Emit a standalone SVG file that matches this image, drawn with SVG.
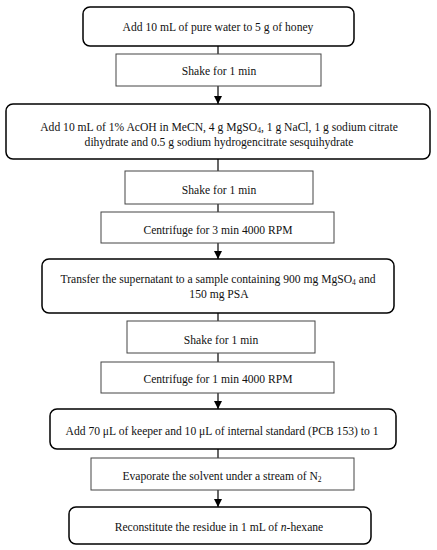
<svg xmlns="http://www.w3.org/2000/svg" width="437" height="550" viewBox="0 0 437 550">
<style>
.r{fill:#fff;stroke:#000;stroke-width:1.5}
.s{fill:#fff;stroke:#444;stroke-width:1}
text{font-family:"Liberation Serif","DejaVu Serif",serif;font-size:11.6px;fill:#111;text-anchor:middle}
.c line{stroke:#000;stroke-width:1.2}
.sub{font-size:7.5px}
</style>
<defs>
<marker id="ah" viewBox="0 0 10 10" refX="10" refY="5" markerWidth="8" markerHeight="8" markerUnits="userSpaceOnUse" orient="auto">
<path d="M0,0 L10,5 L0,10 Z" fill="#000"/>
</marker>
</defs>
<g class="c">
<line x1="218" y1="46" x2="218" y2="54"/>
<line x1="218" y1="86" x2="218" y2="104" marker-end="url(#ah)"/>
<line x1="218" y1="159" x2="218" y2="171"/>
<line x1="218" y1="204" x2="218" y2="212"/>
<line x1="218" y1="243" x2="218" y2="259" marker-end="url(#ah)"/>
<line x1="218" y1="313" x2="218" y2="321"/>
<line x1="218" y1="353" x2="218" y2="362"/>
<line x1="218" y1="393" x2="218" y2="409" marker-end="url(#ah)"/>
<line x1="218" y1="449" x2="218" y2="458"/>
<line x1="218" y1="490" x2="218" y2="507" marker-end="url(#ah)"/>
</g>
<g id="n1"><rect class="r" x="83" y="7" width="271" height="39" rx="7"/><text x="218" y="31">Add 10 mL of pure water to 5 g of honey</text></g>
<g id="n2"><rect class="s" x="116" y="54" width="205" height="32"/><text x="219" y="75">Shake for 1 min</text></g>
<g id="n3"><rect class="r" x="6" y="104" width="424" height="55" rx="7"/><text x="219" y="131">Add 10 mL of 1% AcOH in MeCN, 4 g MgSO<tspan class="sub" dy="2">4</tspan><tspan dy="-2">, 1 g NaCl, 1 g sodium citrate</tspan></text><text x="219" y="146">dihydrate and 0.5 g sodium hydrogencitrate sesquihydrate</text></g>
<g id="n4"><rect class="s" x="125" y="171" width="188" height="33"/><text x="219" y="194">Shake for 1 min</text></g>
<g id="n5"><rect class="s" x="101" y="212" width="233" height="31"/><text x="218" y="234">Centrifuge for 3 min 4000 RPM</text></g>
<g id="n6"><rect class="r" x="42" y="259" width="352" height="54" rx="7"/><text x="218" y="283">Transfer the supernatant to a sample containing 900 mg MgSO<tspan class="sub" dy="2">4</tspan><tspan dy="-2"> and</tspan></text><text x="219" y="298">150 mg PSA</text></g>
<g id="n7"><rect class="s" x="127" y="321" width="188" height="32"/><text x="221" y="344">Shake for 1 min</text></g>
<g id="n8"><rect class="s" x="101" y="362" width="233" height="31"/><text x="218" y="383">Centrifuge for 1 min 4000 RPM</text></g>
<g id="n9"><rect class="r" x="50" y="409" width="346" height="40" rx="7"/><text x="222" y="435">Add 70 μL of keeper and 10 μL of internal standard (PCB 153) to 1</text></g>
<g id="n10"><rect class="s" x="91" y="458" width="263" height="32"/><text x="222" y="480">Evaporate the solvent under a stream of N<tspan class="sub" dy="2">2</tspan></text></g>
<g id="n11"><rect class="r" x="69" y="507" width="302" height="37" rx="7"/><text x="219" y="531">Reconstitute the residue in 1 mL of <tspan font-style="italic">n</tspan>-hexane</text></g>
</svg>
